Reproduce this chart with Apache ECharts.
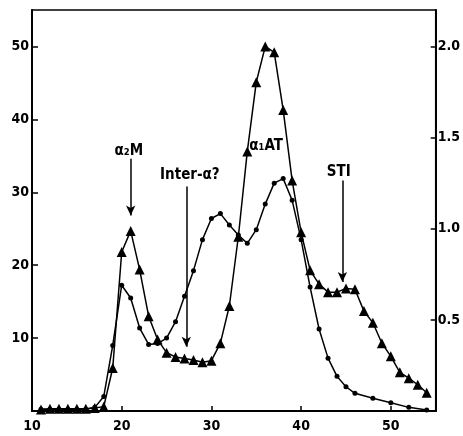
<!DOCTYPE html>
<html>
<head>
<meta charset="utf-8">
<script src="https://cdn.jsdelivr.net/npm/echarts@6/dist/echarts.min.js"></script>
<style>
  html, body { margin: 0; padding: 0; background: #fff; }
  #main { width: 463px; height: 436px; }
</style>
</head>
<body>
<div id="main"></div>
<script>
// fractions (x) and readings
var triX = [11, 12, 13, 14, 15, 16, 17, 18, 19, 20, 21, 22, 23, 24, 25, 26, 27, 28, 29, 30,
            31, 32, 33, 34, 35, 36, 37, 38, 39, 40, 41, 42, 43, 44, 45, 46, 47, 48, 49, 50,
            51, 52, 53, 54];
var triY = [0.2, 0.3, 0.3, 0.3, 0.3, 0.3, 0.4, 0.6, 5.9, 21.8, 24.7, 19.4, 13.0, 9.8, 8.0, 7.4, 7.2, 7.0, 6.7, 6.9,
            9.3, 14.4, 23.9, 35.6, 45.1, 50.0, 49.2, 41.3, 31.6, 24.5, 19.3, 17.4, 16.3, 16.3, 16.8, 16.7, 13.7, 12.1, 9.3, 7.5,
            5.3, 4.5, 3.6, 2.5];

var dotX = [11, 12, 13, 14, 15, 16, 17, 18, 19, 20, 21, 22, 23, 24, 25, 26, 27, 28, 29, 30,
            31, 32, 33, 34, 35, 36, 37, 38, 39, 40, 41, 42, 43, 44, 45, 46, 48, 50, 52, 54];
var dotY = [0.01, 0.01, 0.01, 0.01, 0.01, 0.01, 0.02, 0.08, 0.36, 0.69, 0.62, 0.455, 0.365, 0.37, 0.40, 0.49, 0.63, 0.77, 0.94, 1.056,
            1.083, 1.02, 0.965, 0.92, 0.995, 1.135, 1.25, 1.275, 1.156, 0.94, 0.68, 0.45, 0.29, 0.19, 0.133, 0.097, 0.07, 0.045, 0.02, 0.005];

// annotations: label, label position, arrow (x, from, to) in left-axis units
var noteText = ['α₂M', 'Inter-α?', 'α₁AT', 'STI'];
var notePos = [[20.8, 35.6], [27.6, 32.4], [36.1, 36.4], [44.2, 32.8]];
var arrows = [[21, 34.6, 26.8], [27.2, 30.8, 8.8], [44.6, 31.6, 17.7]];

var font = 'DejaVu Sans Condensed, DejaVu Sans, sans-serif';

function pairs(xs, ys) {
    return xs.map(function (x, i) { return [x, ys[i]]; });
}

var myChart = echarts.init(document.getElementById('main'));

var option = {
    backgroundColor: '#fff',
    animation: false,
    grid: {
        left: 32, right: 25, top: 10, bottom: 25,
        show: true, borderColor: '#000', borderWidth: 1.5, backgroundColor: 'transparent'
    },
    xAxis: {
        type: 'value', min: 10, max: 55, interval: 10,
        axisLine: { lineStyle: { color: '#000', width: 2 } },
        axisTick: { inside: true, length: 5, lineStyle: { color: '#000', width: 1.5 } },
        axisLabel: {
            color: '#000', fontFamily: font, fontWeight: 'bold', fontSize: 14, margin: 8,
            showMaxLabel: false
        },
        splitLine: { show: false }
    },
    yAxis: [{
        type: 'value', min: 0, max: 55, interval: 10,
        axisLine: { show: true, lineStyle: { color: '#000', width: 2 } },
        axisTick: { show: true, inside: true, length: 6, lineStyle: { color: '#000', width: 1.5 } },
        axisLabel: {
            color: '#000', fontFamily: font, fontWeight: 'bold', fontSize: 14, margin: 3,
            showMaxLabel: false,
            formatter: function (v) { return v === 0 ? '' : v; }
        },
        splitLine: { show: false }
    }, {
        type: 'value', min: 0, max: 2.2, interval: 0.5, position: 'right',
        axisLine: { show: true, lineStyle: { color: '#000', width: 2 } },
        axisTick: { show: true, inside: true, length: 5, lineStyle: { color: '#000', width: 1.5 } },
        axisLabel: {
            color: '#000', fontFamily: font, fontWeight: 'bold', fontSize: 14, margin: 2,
            showMaxLabel: false,
            formatter: function (v) { return v === 0 ? '' : v.toFixed(1); }
        },
        splitLine: { show: false }
    }],
    series: [{
        type: 'line',
        yAxisIndex: 0,
        data: pairs(triX, triY),
        symbol: 'triangle',
        symbolSize: 10,
        showAllSymbol: true,
        itemStyle: { color: '#000' },
        lineStyle: { color: '#000', width: 1.5 },
        z: 3,
        markLine: {
            silent: true,
            symbol: ['none', 'arrow'],
            symbolSize: [7, 10],
            label: { show: false },
            lineStyle: { color: '#000', width: 1.5, type: 'solid' },
            data: arrows.map(function (a) {
                return [{ coord: [a[0], a[1]] }, { coord: [a[0], a[2]] }];
            })
        },
        markPoint: {
            silent: true,
            symbol: 'circle',
            symbolSize: 0,
            label: {
                show: true, position: 'inside', color: '#000',
                fontFamily: font, fontWeight: 'bold', fontSize: 15,
                formatter: function (p) { return p.name; }
            },
            data: noteText.map(function (t, i) {
                return { name: t, coord: notePos[i] };
            })
        }
    }, {
        type: 'line',
        yAxisIndex: 1,
        data: pairs(dotX, dotY),
        symbol: 'circle',
        symbolSize: 5,
        showAllSymbol: true,
        itemStyle: { color: '#000' },
        lineStyle: { color: '#000', width: 1.5 },
        z: 2
    }]
};

myChart.setOption(option);
</script>
</body>
</html>
